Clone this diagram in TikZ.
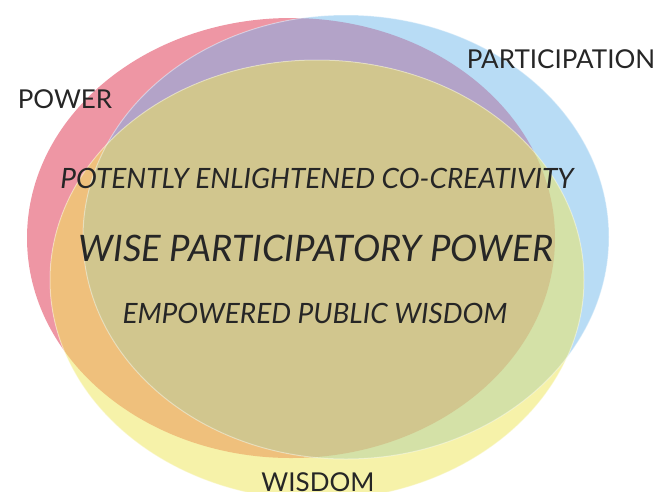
\documentclass[tikz,border=0pt]{standalone}
\usepackage{fontspec}
\setmainfont{Lato}
\definecolor{ink}{HTML}{262626}
\definecolor{powerfill}{HTML}{EE96A4}
\definecolor{partfill}{HTML}{B8DCF5}
\definecolor{wisdomfill}{HTML}{F6F2A9}
\definecolor{powpart}{HTML}{B3A3C8}
\definecolor{powwis}{HTML}{EFC07C}
\definecolor{partwis}{HTML}{D4E1A7}
\definecolor{allthree}{HTML}{D1C68E}

\begin{document}
\begin{tikzpicture}[x=1pt,y=-1pt,
  redpath/.style={insert path={(291,238) ellipse [x radius=264pt,y radius=220pt]}},
  bluepath/.style={insert path={(346,237) ellipse [x radius=263pt,y radius=222pt]}},
  yellowpath/.style={insert path={(317,280) ellipse [x radius=267pt,y radius=220pt]}},
  rim/.style={draw=white,draw opacity=0.4,line width=1pt},
  lbl/.style={text=ink,inner sep=0pt,anchor=base,font=\fontsize{26}{26}\selectfont},
  inner/.style={lbl,font=\fontsize{28}{28}\selectfont\itshape}]
\useasboundingbox (0,0) rectangle (672,491);
% the three circles
\fill[powerfill][redpath];
\fill[partfill][bluepath];
\fill[wisdomfill][yellowpath];
% two-way overlaps
\begin{scope}
  \clip[redpath];
  \fill[powpart][bluepath];
  \fill[powwis][yellowpath];
\end{scope}
\begin{scope}
  \clip[bluepath];
  \fill[partwis][yellowpath];
\end{scope}
% centre
\begin{scope}
  \clip[redpath];
  \clip[bluepath];
  \fill[allthree][yellowpath];
\end{scope}
\path[rim][bluepath];
\path[rim][yellowpath];
% labels
\node[lbl] (power) at (65,108) {POWER};
\node[lbl] (participation) at (561,68) {PARTICIPATION};
\node[lbl] (wisdom) at (318,491) {WISDOM};
\node[inner] (cocreate) at (317,188) {POTENTLY ENLIGHTENED CO-CREATIVITY};
\node[inner,font=\fontsize{36.5}{36.5}\selectfont\itshape] (wisepower) at (316,261) {WISE PARTICIPATORY POWER};
\node[inner] (publicwis) at (315,323) {EMPOWERED PUBLIC WISDOM};
\end{tikzpicture}
\end{document}
